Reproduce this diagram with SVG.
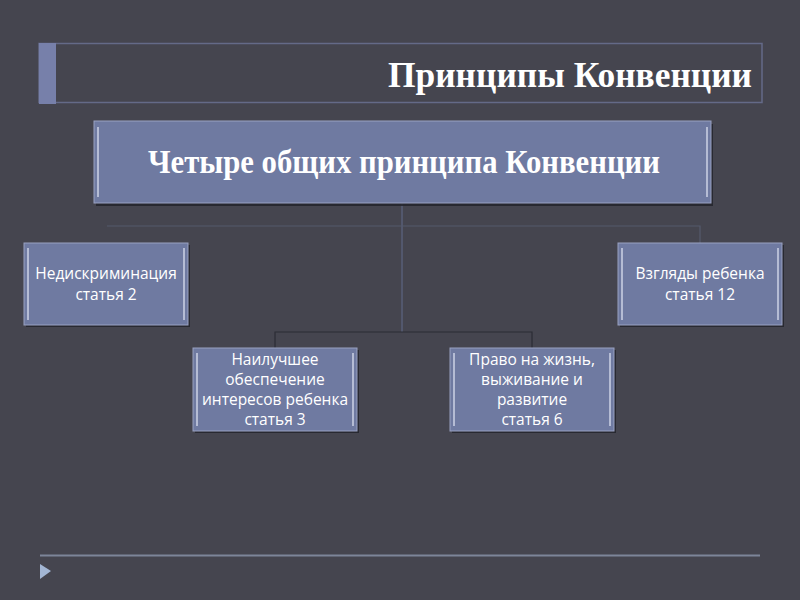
<svg xmlns="http://www.w3.org/2000/svg" width="800" height="600" viewBox="0 0 800 600">
<defs>
<style>
.box{fill:#6f7aa1;stroke:#9aa2c2;stroke-width:1}
.sh{fill:#23242c;opacity:0.85}
.bev{stroke:#d8dcee;stroke-width:1.6;opacity:0.85}
.t{font-family:"Open Sans","Noto Sans","Liberation Sans",sans-serif;font-size:15.5px;fill:#ffffff;text-anchor:middle}
.ts{font-family:"Liberation Serif","Times New Roman",serif;font-weight:bold;fill:#ffffff}
.c{fill:none;stroke-width:1.2}
</style>
</defs>
<rect width="800" height="600" fill="#45454f"/>
<g id="title">
<rect x="39" y="43.5" width="723" height="59" fill="none" stroke="#646a88" stroke-width="1.5"/>
<rect x="39" y="43" width="17" height="61" fill="#7780aa"/>
<text class="ts" x="752" y="87" font-size="35" text-anchor="end" textLength="364" lengthAdjust="spacingAndGlyphs">Принципы Конвенции</text>
</g>
<g id="connectors">
<line class="c" x1="402" y1="203" x2="402" y2="332" stroke="#5d6582"/>
<polyline class="c" points="107,226 700,226 700,243" stroke="#555a6d"/>
<polyline class="c" points="275,348 275,332 532,332 532,348" stroke="#2b2c35"/>
</g>
<g id="main">
<rect class="sh" x="96" y="124" width="617" height="82"/>
<rect class="box" x="94" y="121" width="617" height="82"/>
<line class="bev" x1="98" y1="127" x2="98" y2="197"/>
<line class="bev" x1="707" y1="127" x2="707" y2="197"/>
<text class="ts" x="404" y="173" font-size="33" text-anchor="middle" textLength="512" lengthAdjust="spacingAndGlyphs">Четыре общих принципа Конвенции</text>
</g>
<g id="n1">
<rect class="sh" x="26" y="245" width="164" height="82"/>
<rect class="box" x="24" y="243" width="164" height="82"/>
<line class="bev" x1="28" y1="248" x2="28" y2="320"/>
<line class="bev" x1="184" y1="248" x2="184" y2="320"/>
<text class="t" x="106" y="279">Недискриминация</text>
<text class="t" x="106" y="300">статья 2</text>
</g>
<g id="n2">
<rect class="sh" x="620" y="245" width="164" height="82"/>
<rect class="box" x="618" y="243" width="164" height="82"/>
<line class="bev" x1="622" y1="248" x2="622" y2="320"/>
<line class="bev" x1="778" y1="248" x2="778" y2="320"/>
<text class="t" x="700" y="279">Взгляды ребенка</text>
<text class="t" x="700" y="300">статья 12</text>
</g>
<g id="n3">
<rect class="sh" x="195" y="350" width="164" height="83"/>
<rect class="box" x="193" y="348" width="164" height="83"/>
<line class="bev" x1="197" y1="353" x2="197" y2="426"/>
<line class="bev" x1="353" y1="353" x2="353" y2="426"/>
<text class="t" x="275" y="365">Наилучшее</text>
<text class="t" x="275" y="385">обеспечение</text>
<text class="t" x="275" y="405">интересов ребенка</text>
<text class="t" x="275" y="425">статья 3</text>
</g>
<g id="n4">
<rect class="sh" x="452" y="350" width="164" height="83"/>
<rect class="box" x="450" y="348" width="164" height="83"/>
<line class="bev" x1="454" y1="353" x2="454" y2="426"/>
<line class="bev" x1="610" y1="353" x2="610" y2="426"/>
<text class="t" x="532" y="365">Право на жизнь,</text>
<text class="t" x="532" y="385">выживание и</text>
<text class="t" x="532" y="405">развитие</text>
<text class="t" x="532" y="425">статья 6</text>
</g>
<g id="footer">
<line x1="40" y1="555.5" x2="760" y2="555.5" stroke="#7d8599" stroke-width="2"/>
<polygon points="40,564 51,571 40,579" fill="#a3b6d4"/>
</g>
</svg>
